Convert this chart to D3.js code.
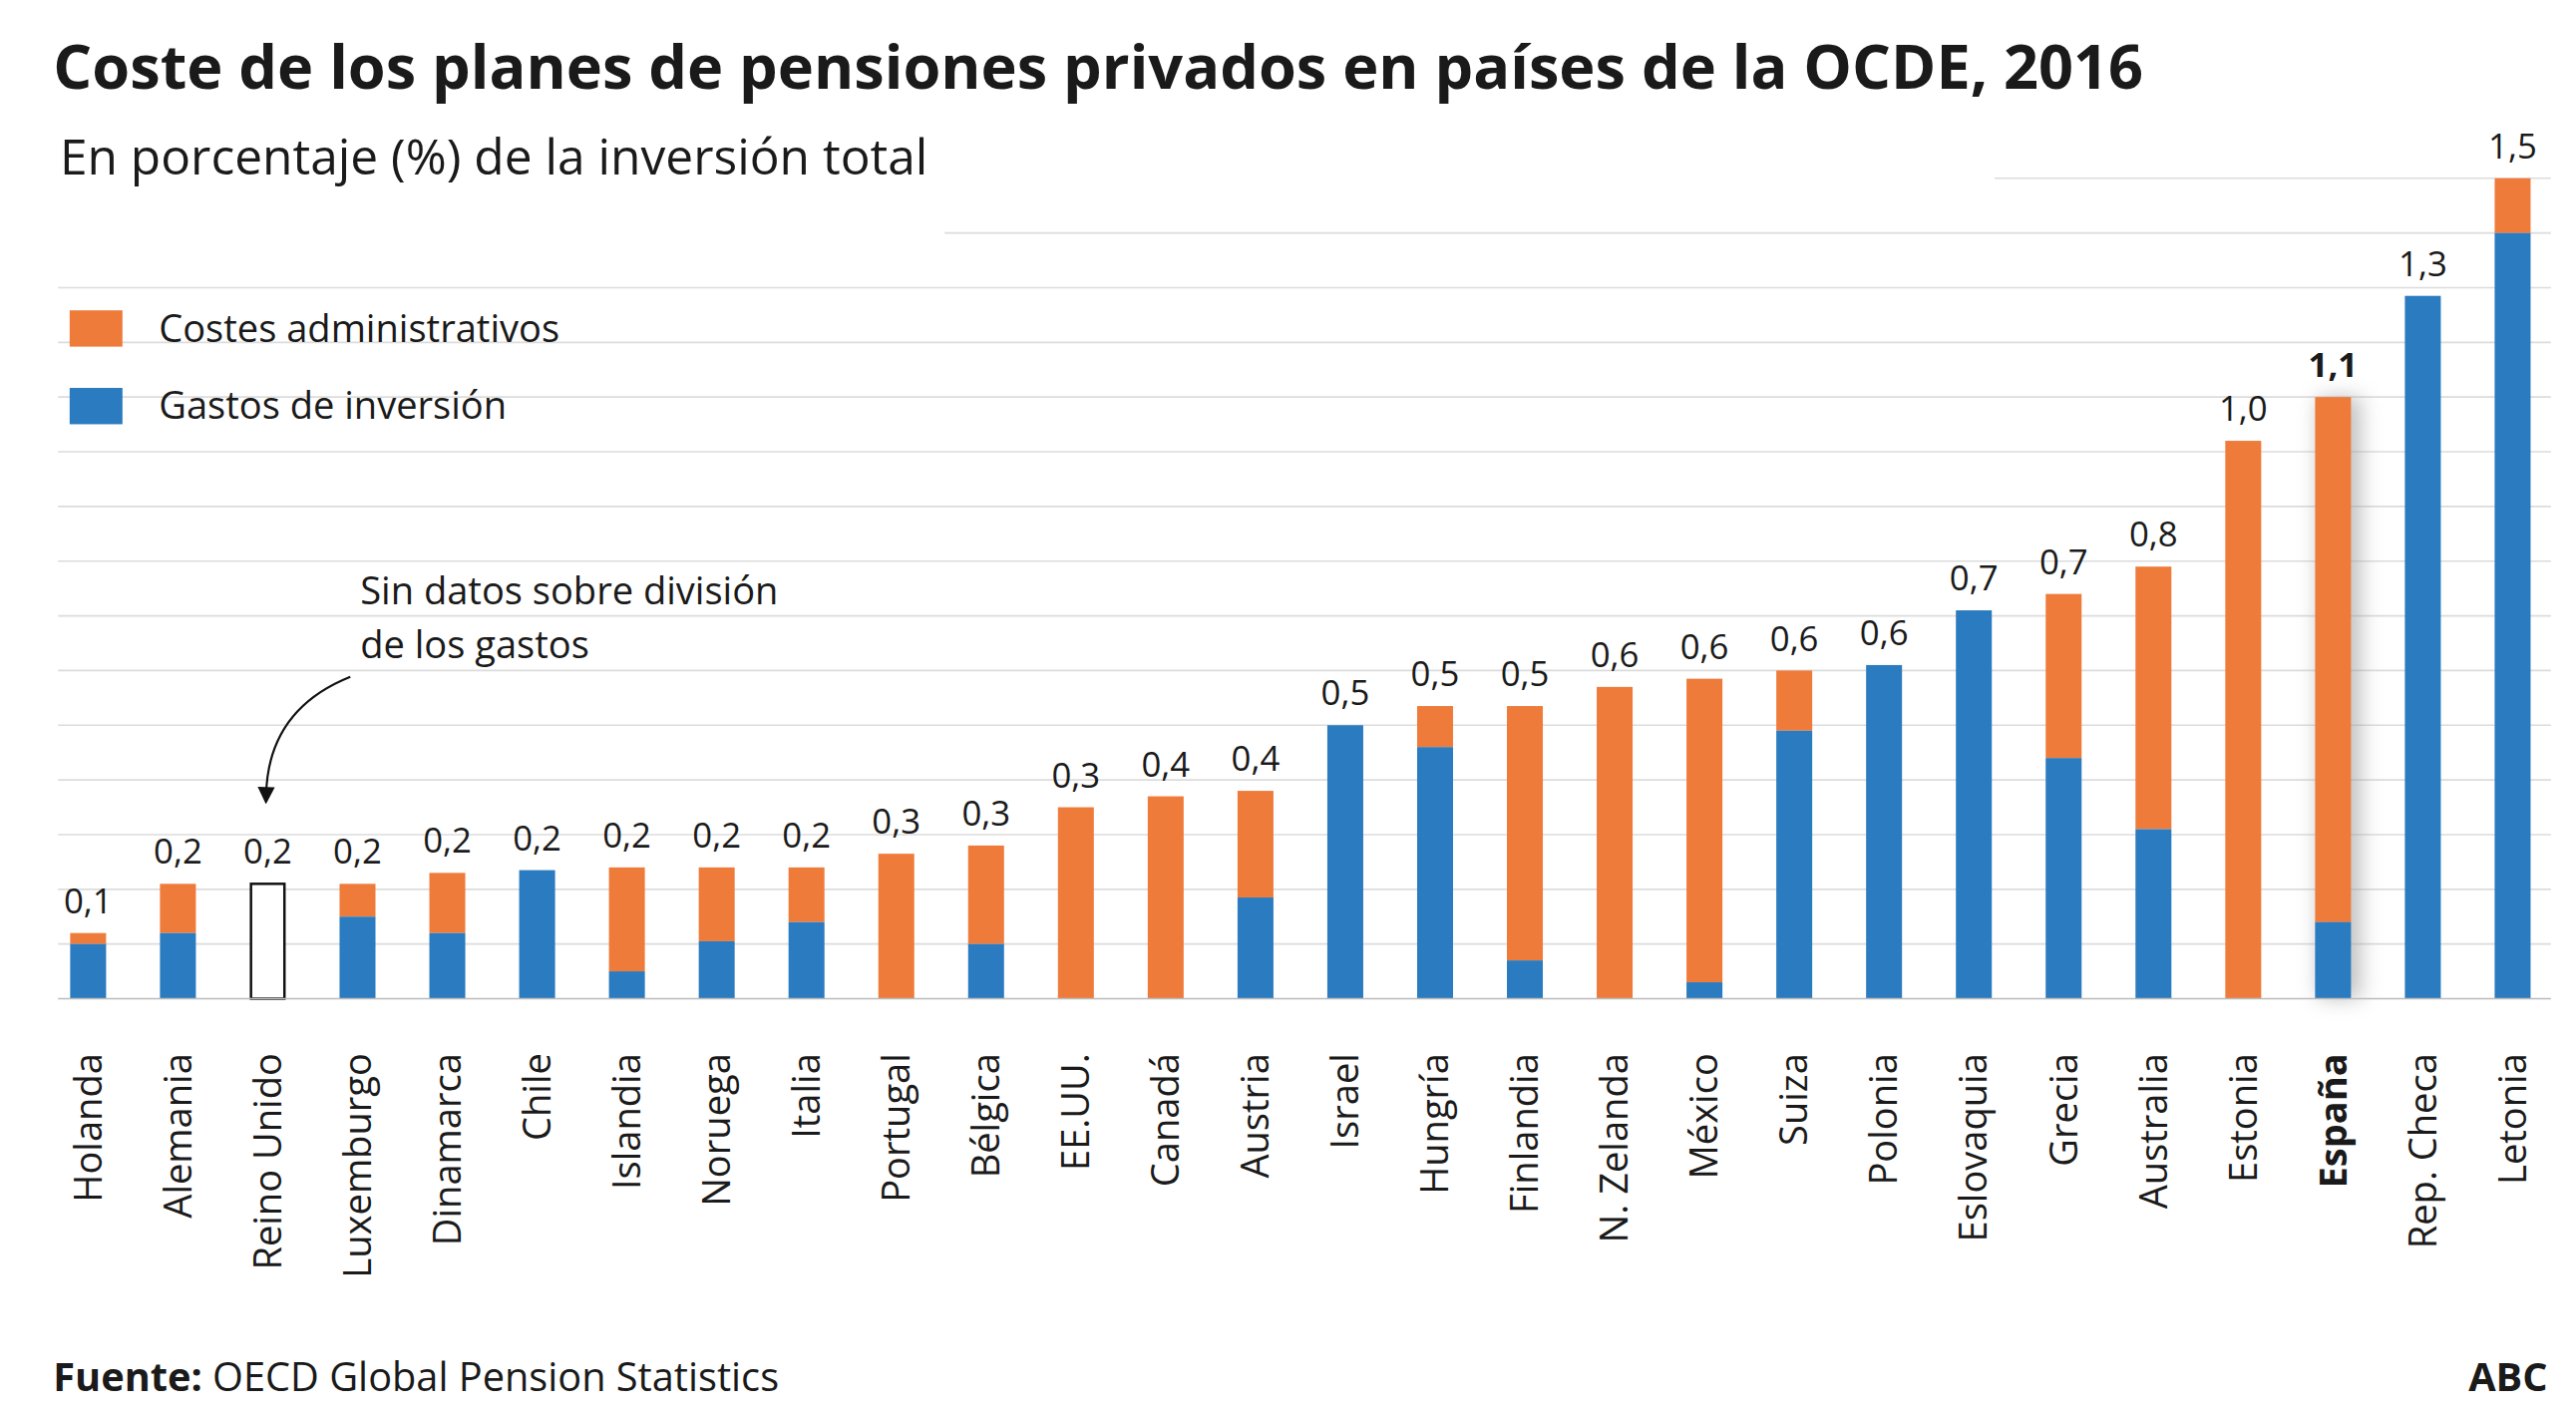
<!DOCTYPE html>
<html><head><meta charset="utf-8">
<script src="https://cdn.jsdelivr.net/npm/d3@7"></script>
<style>body{margin:0;background:#fff}svg{display:block}text{font-family:"Open Sans","Noto Sans",sans-serif;fill:#1a1a1a}</style>
</head><body><svg id="chart" width="2583" height="1417" viewBox="0 0 1560 856"></svg>
<script>
const countries = ["Holanda","Alemania","Reino Unido","Luxemburgo","Dinamarca","Chile","Islandia","Noruega","Italia","Portugal","Bélgica","EE.UU.","Canadá","Austria","Israel","Hungría","Finlandia","N. Zelanda","México","Suiza","Polonia","Eslovaquia","Grecia","Australia","Estonia","España","Rep. Checa","Letonia"];
const totals = [0.12,0.21,0.21,0.21,0.23,0.235,0.24,0.24,0.24,0.265,0.28,0.35,0.37,0.38,0.50,0.535,0.535,0.57,0.585,0.60,0.61,0.71,0.74,0.79,1.02,1.10,1.285,1.50];
const inversion = [0.10,0.12,null,0.15,0.12,0.235,0.05,0.105,0.14,0,0.10,0,0,0.185,0.50,0.46,0.07,0,0.03,0.49,0.61,0.71,0.44,0.31,0,0.14,1.285,1.40];
const labels = ["0,1","0,2","0,2","0,2","0,2","0,2","0,2","0,2","0,2","0,3","0,3","0,3","0,4","0,4","0,5","0,5","0,5","0,6","0,6","0,6","0,6","0,7","0,7","0,8","1,0","1,1","1,3","1,5"];
const gridTicks = d3.range(1, 16).map(i => i / 10);

const orange = "#ef7b3b", blue = "#2a7bbf";
const svg = d3.select("#chart");
const x = d3.scaleBand().domain(countries).range([26, 1549]).paddingInner(0.6).paddingOuter(0.3);
const y = d3.scaleLinear().domain([0, 1.5]).range([605, 108]);

const defs = svg.append("defs");
const f = defs.append("filter").attr("id", "shadow").attr("x", "-100%").attr("width", "300%").attr("y", "-10%").attr("height", "120%");
f.append("feGaussianBlur").attr("stdDeviation", 6);

// grid
svg.append("g").selectAll("line").data(gridTicks).join("line")
  .attr("x1", d => d >= 1.5 ? 1208 : d >= 1.4 ? 572 : 35).attr("x2", 1545)
  .attr("y1", d => y(d)).attr("y2", d => y(d))
  .attr("stroke", "#dcdcdc").attr("stroke-width", 1);

// shadow for España
svg.append("rect").attr("x", x("España") + 2).attr("width", x.bandwidth() + 4)
  .attr("y", y(1.10)).attr("height", y(0) - y(1.10))
  .attr("fill", "#999").attr("opacity", 0.6).attr("filter", "url(#shadow)");

const bars = svg.append("g");
countries.forEach((c, i) => {
  if (inversion[i] === null) {
    bars.append("rect").attr("x", x(c) + 0.75).attr("width", x.bandwidth() - 1.5)
      .attr("y", y(totals[i])).attr("height", y(0) - y(totals[i]))
      .attr("fill", "#fff").attr("stroke", "#111").attr("stroke-width", 1.5);
    return;
  }
  bars.append("rect").attr("x", x(c)).attr("width", x.bandwidth())
    .attr("y", y(totals[i])).attr("height", y(inversion[i]) - y(totals[i])).attr("fill", orange);
  bars.append("rect").attr("x", x(c)).attr("width", x.bandwidth())
    .attr("y", y(inversion[i])).attr("height", y(0) - y(inversion[i])).attr("fill", blue);
});

// baseline
svg.append("line").attr("x1", 35).attr("x2", 1545).attr("y1", y(0)).attr("y2", y(0)).attr("stroke", "#bbb");

// value labels
svg.append("g").selectAll("text").data(countries).join("text")
  .attr("x", d => x(d) + x.bandwidth() / 2).attr("y", (d, i) => y(totals[i]) - 12)
  .attr("text-anchor", "middle").attr("font-size", 21)
  .attr("font-weight", d => d === "España" ? 700 : 400)
  .text((d, i) => labels[i]);

// country labels
svg.append("g").selectAll("text").data(countries).join("text")
  .attr("transform", d => `translate(${x(d) + x.bandwidth() / 2 + 8},638) rotate(-90)`)
  .attr("text-anchor", "end").attr("font-size", 23)
  .attr("font-weight", d => d === "España" ? 700 : 400)
  .text(d => d);

// title
svg.append("text").attr("x", 32).attr("y", 54).attr("font-size", 37).attr("font-weight", 700)
  .text("Coste de los planes de pensiones privados en países de la OCDE, 2016");
svg.append("text").attr("x", 36).attr("y", 106).attr("font-size", 30)
  .text("En porcentaje (%) de la inversión total");

// legend
const legend = [["Costes administrativos", orange], ["Gastos de inversión", blue]];
legend.forEach((l, i) => {
  svg.append("rect").attr("x", 42).attr("y", 188 + i * 47).attr("width", 32).attr("height", 22).attr("fill", l[1]);
  svg.append("text").attr("x", 96).attr("y", 207 + i * 47).attr("font-size", 23).text(l[0]);
});

// annotation
svg.append("text").attr("x", 218).attr("y", 366).attr("font-size", 23).text("Sin datos sobre división");
svg.append("text").attr("x", 218).attr("y", 399).attr("font-size", 23).text("de los gastos");
defs.append("marker").attr("id", "arrow").attr("viewBox", "0 0 10 10").attr("refX", 5).attr("refY", 5)
  .attr("markerWidth", 8).attr("markerHeight", 8).attr("orient", "auto")
  .append("path").attr("d", "M0,0 L10,5 L0,10 Z").attr("fill", "#111");
svg.append("path").attr("d", "M212,410 Q162,430 161,482").attr("fill", "none").attr("stroke", "#111")
  .attr("stroke-width", 1.3).attr("marker-end", "url(#arrow)");

// footer
const ft = svg.append("text").attr("x", 32).attr("y", 843).attr("font-size", 24);
ft.append("tspan").attr("font-weight", 700).text("Fuente: ");
ft.append("tspan").text("OECD Global Pension Statistics");
svg.append("text").attr("x", 1543).attr("y", 843).attr("font-size", 24).attr("font-weight", 700)
  .attr("text-anchor", "end").text("ABC");
</script></body></html>
